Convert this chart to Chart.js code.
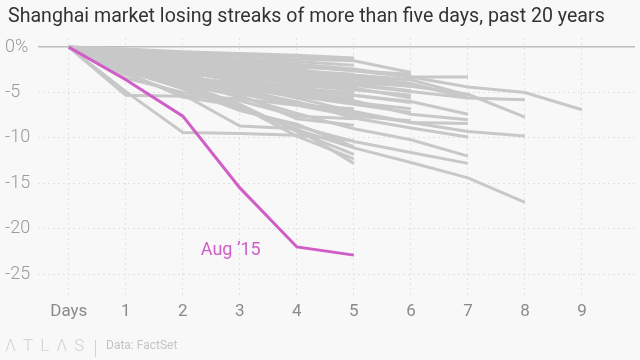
<!DOCTYPE html>
<html>
<head>
<meta charset="utf-8">
<script src="https://cdn.jsdelivr.net/npm/chart.js@4.4.1/dist/chart.umd.min.js"></script>
<style>
  body { margin: 0; background: #f8f8f8; }
  #wrap { position: relative; width: 640px; height: 360px; overflow: hidden; }
  #title { position: absolute; left: 8px; top: 4px; font: 19.6px Roboto, sans-serif; color: #333; white-space: nowrap; }
  #logo { position: absolute; left: 5px; top: 335px; font: 300 17px Roboto, sans-serif; color: #d2d2d2; letter-spacing: 7px; }
  #bar { position: absolute; left: 95px; top: 340px; width: 1px; height: 17px; background: #d2d2d2; }
  #source { position: absolute; left: 106px; top: 338px; font: 12px Roboto, sans-serif; color: #c4c4c4; }
  canvas { position: absolute; left: 0; top: 0; }
</style>
</head>
<body>
<div id="wrap">
  <canvas id="streaks" width="640" height="360"></canvas>
  <div id="title">Shanghai market losing streaks of more than five days, past 20 years</div>
  <div id="logo">ΛTLΛS</div>
  <div id="bar"></div>
  <div id="source">Data: FactSet</div>
</div>
<script>
// tick labels
const xLabels = ["Days", "1", "2", "3", "4", "5", "6", "7", "8", "9"];
const yTicks = [0, -5, -10, -15, -20, -25];

// highlighted streak, cumulative % change by day
const aug15 = [0, -3.6, -7.6, -15.5, -22.0, -22.9];

// other losing streaks (cumulative % change by day)
const streaks = [
  [0, -0.4, -1.0, -1.5, -2.0, -2.6, -3.3, -4.4, -5.0, -6.9],
  [0, -0.7, -1.4, -2.0, -2.6, -3.2, -4.0, -5.6, -5.8],
  [0, -0.9, -1.7, -2.3, -2.9, -3.6, -4.3, -5.2, -7.7],
  [0, -1.6, -2.9, -4.6, -6.1, -7.3, -8.3, -9.3, -9.8],
  [0, -2.4, -4.3, -6.6, -9.1, -11.1, -12.7, -14.4, -17.1],
  [0, -0.5, -1.0, -1.4, -1.9, -2.4, -3.3, -3.3],
  [0, -0.6, -1.3, -2.0, -2.6, -3.1, -3.6, -5.3],
  [0, -1.0, -1.9, -2.7, -3.5, -4.2, -4.9, -5.6],
  [0, -1.1, -2.3, -3.6, -4.6, -5.3, -6.0, -7.4],
  [0, -1.4, -2.6, -3.9, -4.9, -5.9, -7.4, -8.0],
  [0, -1.8, -3.4, -4.3, -5.6, -7.1, -8.3, -8.4],
  [0, -1.3, -3.0, -4.8, -6.0, -7.8, -8.9, -9.9],
  [0, -2.1, -3.9, -5.5, -7.3, -9.0, -10.2, -12.0],
  [0, -2.7, -4.5, -6.9, -8.7, -10.4, -11.6, -12.8],
  [0, -0.3, -0.7, -1.0, -1.3, -1.5, -2.8],
  [0, -0.5, -1.1, -1.6, -2.1, -2.6, -3.0],
  [0, -0.8, -1.5, -2.2, -2.9, -3.1, -3.6],
  [0, -0.6, -1.8, -2.5, -3.3, -3.9, -4.3],
  [0, -1.2, -2.0, -3.1, -3.8, -4.1, -4.8],
  [0, -1.0, -2.4, -3.3, -4.0, -4.7, -5.3],
  [0, -1.5, -2.8, -3.6, -4.4, -5.3, -6.1],
  [0, -1.9, -3.2, -4.2, -5.2, -6.1, -6.8],
  [0, -2.2, -3.6, -4.6, -5.4, -6.3, -7.2],
  [0, -1.7, -3.5, -5.1, -6.4, -7.6, -8.1],
  [0, -0.4, -1.2, -1.9, -2.4, -3.4, -4.0],
  [0, -1.3, -2.5, -3.0, -3.7, -4.5, -5.6],
  [0, -0.2, -0.5, -0.7, -0.9, -1.2],
  [0, -0.3, -0.6, -0.8, -1.0, -1.4],
  [0, -0.4, -0.9, -1.3, -1.6, -2.0],
  [0, -0.7, -1.2, -1.8, -2.2, -2.5],
  [0, -0.9, -1.6, -2.1, -2.6, -3.0],
  [0, -0.5, -1.5, -2.4, -3.0, -3.5],
  [0, -1.1, -2.1, -2.8, -3.4, -4.0],
  [0, -1.3, -2.3, -3.3, -3.9, -4.4],
  [0, -0.8, -2.6, -3.8, -4.6, -5.0],
  [0, -1.6, -2.9, -3.5, -4.5, -5.5],
  [0, -2.0, -3.1, -4.4, -5.1, -6.0],
  [0, -0.6, -1.9, -3.0, -4.2, -4.7],
  [0, -1.5, -2.2, -2.6, -3.3, -3.8],
  [0, -2.6, -3.3, -4.0, -4.8, -5.8],
  [0, -5.3, -5.4, -5.7, -6.4, -6.8],
  [0, -1.9, -3.8, -5.0, -6.2, -7.2],
  [0, -2.3, -4.2, -5.3, -7.9, -8.6],
  [0, -3.4, -5.0, -5.9, -7.6, -7.9],
  [0, -4.9, -9.4, -9.5, -9.7, -10.3],
  [0, -2.5, -4.6, -7.0, -8.5, -11.0],
  [0, -2.2, -4.0, -6.3, -9.3, -11.8],
  [0, -3.0, -5.2, -8.7, -9.0, -12.8],
  [0, -2.8, -5.5, -6.5, -9.8, -12.3],
];

const toPoints = (values) => values.map((v, i) => ({ x: i, y: v }));

const datasets = streaks.map((values) => ({
  data: toPoints(values),
  borderColor: "#c8c8c8",
  borderWidth: 3,
  order: 1,
}));
datasets.push({
  data: toPoints(aug15),
  borderColor: "#d05ec6",
  borderWidth: 3,
  order: 0,
});

// "Aug '15" label next to the pink line
const labelPlugin = {
  id: "streakLabel",
  afterDatasetsDraw(chart) {
    const { ctx, scales } = chart;
    ctx.save();
    ctx.font = "18px Roboto, sans-serif";
    ctx.fillStyle = "#d05ec6";
    ctx.textAlign = "center";
    ctx.textBaseline = "middle";
    ctx.fillText("Aug \u201915", scales.x.getPixelForValue(2.84), scales.y.getPixelForValue(-22.4));
    ctx.restore();
  },
};

new Chart(document.getElementById("streaks"), {
  type: "line",
  data: { datasets },
  plugins: [labelPlugin],
  options: {
    responsive: false,
    animation: false,
    layout: { padding: { top: 38, left: 5, right: 5, bottom: 0 } },
    elements: { point: { radius: 0 }, line: { tension: 0 } },
    plugins: { legend: { display: false }, tooltip: { enabled: false } },
    scales: {
      x: {
        type: "linear",
        min: -0.54,
        max: 9.93,
        afterBuildTicks: (scale) => {
          scale.ticks = xLabels.map((_, i) => ({ value: i }));
        },
        afterFit: (scale) => { scale.height = 64; },
        border: { display: false, dash: [2, 3] },
        grid: { color: "#e2e2e2", drawTicks: false },
        ticks: {
          padding: 6,
          color: "#8a8a8a",
          font: { family: "Roboto", size: 17 },
          callback: (v) => xLabels[v],
        },
      },
      y: {
        min: -27.4,
        max: 1,
        afterBuildTicks: (scale) => {
          scale.ticks = yTicks.map((v) => ({ value: v }));
        },
        afterFit: (scale) => { scale.width = 33; },
        border: { display: false, dash: (c) => (c.tick && c.tick.value === 0 ? [] : [2, 3]) },
        grid: {
          color: (c) => (c.tick && c.tick.value === 0 ? "#bdbdbd" : "#e2e2e2"),
          lineWidth: (c) => (c.tick && c.tick.value === 0 ? 1.5 : 1),
          drawTicks: false,
        },
        ticks: {
          padding: 0,
          crossAlign: "far",
          color: "#9a9a9a",
          font: { family: "Roboto", size: 18, weight: "300" },
          callback: (v) => (v === 0 ? "0%" : String(v)),
        },
      },
    },
  },
});
</script>
</body>
</html>
